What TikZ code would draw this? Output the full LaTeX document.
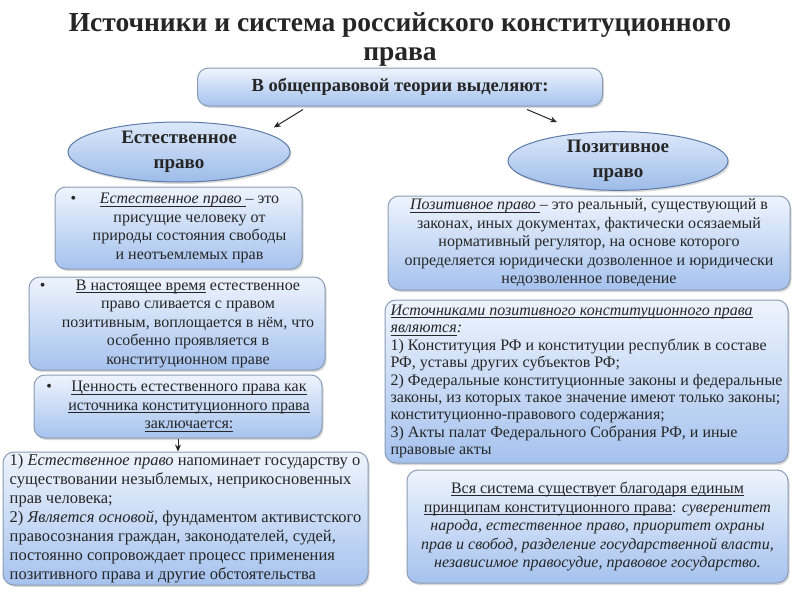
\documentclass[tikz,border=0pt]{standalone}
\usepackage{fontspec}
\setmainfont{Liberation Serif}
\usepackage{xcolor}
\usepackage{tikz}
\usetikzlibrary{arrows.meta, positioning, shapes.geometric, shadows}

\definecolor{boxtop}{HTML}{EEF4FD}
\definecolor{boxbottom}{HTML}{A5C2EE}
\definecolor{boxedge}{HTML}{8A9BB3}
\definecolor{ovaltop}{HTML}{DCE8FA}
\definecolor{ovalbottom}{HTML}{9DBCE9}
\definecolor{ovaledge}{HTML}{5D7BA8}
\definecolor{inktext}{HTML}{262626}

\newcommand{\bodytext}{\fontsize{16}{18.5}\selectfont}
\newcommand{\lineunder}[1]{\leavevmode\setbox0\hbox{#1}\rlap{\rule[-2.5pt]{\wd0}{0.6pt}}\box0\relax}

\tikzset{
	infobox/.style={rectangle, rounded corners=11pt, draw=boxedge, line width=1pt,
		top color=boxtop, bottom color=boxbottom,
		drop shadow={opacity=0.3, shadow xshift=1.5pt, shadow yshift=-2pt},
		text=inktext, inner sep=0pt, font=\bodytext},
	oval/.style={ellipse, draw=ovaledge, line width=1pt,
		top color=ovaltop, bottom color=ovalbottom,
		drop shadow={opacity=0.3, shadow xshift=1.5pt, shadow yshift=-2pt},
		text=inktext, inner sep=0pt, align=center,
		font=\fontsize{19}{25}\selectfont\bfseries},
	arr/.style={-{Stealth[length=7pt, width=6pt]}, line width=1pt, draw=inktext},
}

\begin{document}
\begin{tikzpicture}[x=1pt, y=-1pt]
	\useasboundingbox (0,0) rectangle (800,600);
	% Title and the top box:
	\node[font=\fontsize{27.5}{29}\selectfont\bfseries, text=inktext, align=center] (title) at (400,39)
		{Источники и система российского конституционного\\права};
	\node[infobox, minimum width=405pt, minimum height=38pt, font=\fontsize{18.5}{22}\selectfont\bfseries]
		(theory) at (400,87) {В общеправовой теории выделяют:};
	\node[oval, minimum width=222pt, minimum height=60pt] (natural) at (179,152) {Естественное\\право};
	\node[oval, minimum width=220pt, minimum height=58pt] (positive) at (618,161) {Позитивное\\право};
	% Left column:
	\node[infobox, minimum width=247pt, minimum height=82pt] (natdef) at (178.5,228)
		{\begin{tabular}{@{}p{22pt}@{}c@{}}
			\textbullet & \lineunder{\itshape Естественное право }– это\\
			& присущие человеку от\\
			& природы состояния свободы\\
			& и неотъемлемых прав
		\end{tabular}};
	\node[infobox, minimum width=296pt, minimum height=93pt] (natnow) at (177,323.5)
		{\begin{tabular}{@{}p{22pt}@{}c@{}}
			\textbullet & \lineunder{В настоящее время} естественное\\
			& право сливается с правом\\
			& позитивным, воплощается в нём, что\\
			& особенно проявляется в\\
			& конституционном праве
		\end{tabular}};
	\node[infobox, minimum width=288pt, minimum height=63pt] (natvalue) at (178,406.5)
		{\begin{tabular}{@{}p{22pt}@{}c@{}}
			\textbullet & \lineunder{Ценность естественного права как}\\
			& \lineunder{источника конституционного права}\\
			& \lineunder{заключается:}
		\end{tabular}};
	\node[infobox, minimum width=365pt, minimum height=133pt, align=left,
		font=\fontsize{16.5}{19}\selectfont] (natroles) at (185.5,518.5)
		{1) \textit{Естественное право} напоминает государству о\\
		существовании незыблемых, неприкосновенных\\
		прав человека;\\
		2) \textit{Является основой}, фундаментом активистского\\
		правосознания граждан, законодателей, судей,\\
		постоянно сопровождает процесс применения\\
		позитивного права и другие обстоятельства};
	% Right column:
	\node[infobox, minimum width=402pt, minimum height=94pt, align=center] (posdef) at (589,243)
		{\lineunder{\itshape Позитивное право }– это реальный, существующий в\\
		законах, иных документах, фактически осязаемый\\
		нормативный регулятор, на основе которого\\
		определяется юридически дозволенное и юридически\\
		недозволенное поведение};
	\node[infobox, minimum width=403pt, minimum height=163pt, align=left,
		font=\fontsize{16}{17.4}\selectfont] (possrc) at (586.5,381.5)
		{\lineunder{\itshape Источниками позитивного конституционного права}\\
		\lineunder{\itshape являются}\textit{:}\\
		1) Конституция РФ и конституции республик в составе\\
		РФ, уставы других субъектов РФ;\\
		2) Федеральные конституционные законы и федеральные\\
		законы, из которых такое значение имеют только законы;\\
		конституционно-правового содержания;\\
		3) Акты палат Федерального Собрания РФ, и иные\\
		правовые акты};
	\node[infobox, minimum width=381pt, minimum height=113pt, align=center] (posprinc) at (597.5,526.5)
		{\lineunder{Вся система существует благодаря единым}\\
		\lineunder{принципам конституционного права}: \textit{суверенитет}\\
		\textit{народа, естественное право, приоритет охраны}\\
		\textit{прав и свобод, разделение государственной власти,}\\
		\textit{независимое правосудие, правовое государство.}};
	% Arrows:
	\draw[arr] ([xshift=-97pt, yshift=-3pt]theory.south) -- ([xshift=16pt, yshift=3pt]natural.north east);
	\draw[arr] ([xshift=127pt, yshift=-3pt]theory.south) -- ([xshift=-61pt, yshift=9pt]positive.north);
	\draw[arr] (natvalue.south) -- (natvalue.south |- natroles.north);
\end{tikzpicture}
\end{document}
